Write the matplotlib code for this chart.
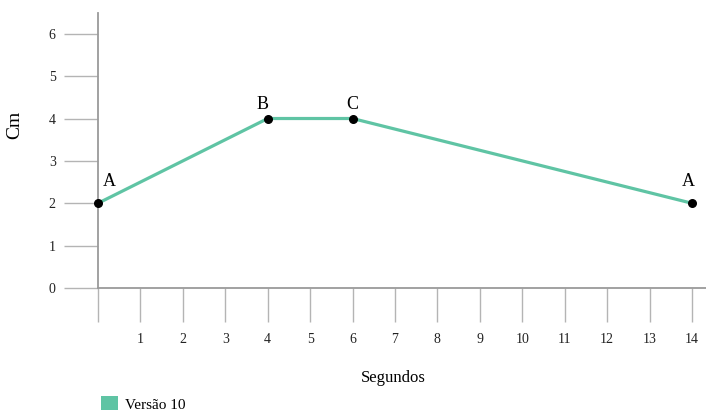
import matplotlib.pyplot as plt
from matplotlib.patches import Patch

# Data
segundos = [0, 4, 6, 14]
cm = [2, 4, 4, 2]
pontos = ["A", "B", "C", "A"]
x_ticks = list(range(0, 15))
y_ticks = list(range(0, 7))
serie = "Versão 10"

teal = "#5fc4a4"
grid_gray = "#b4b4b4"
axis_gray = "#9a9a9a"

plt.rcParams["font.family"] = ["Liberation Serif", "DejaVu Serif"]

fig = plt.figure(figsize=(7.06, 4.13), dpi=100)
ax = fig.add_axes([98 / 706, 125 / 413, 608 / 706, 275 / 413])

ax.plot(segundos, cm, color=teal, linewidth=2.3, zorder=3, clip_on=False)
ax.scatter(segundos, cm, color="black", s=30, zorder=4, clip_on=False)

# point labels (offsets in points)
offsets = [(8, 16), (-4, 10), (0, 10), (-3, 16)]
for x, y, nome, off in zip(segundos, cm, pontos, offsets):
    ax.annotate(nome, (x, y), xytext=off, textcoords="offset points",
                ha="center", va="center", fontsize=13)

ax.set_xlim(0, 14.33)
ax.set_ylim(0, 6.49)
ax.set_xticks(x_ticks)
ax.set_xticklabels([""] + [str(t) for t in x_ticks[1:]])
ax.set_yticks(y_ticks)

for s in ["top", "right"]:
    ax.spines[s].set_visible(False)
for s in ["left", "bottom"]:
    ax.spines[s].set_color(axis_gray)
    ax.spines[s].set_linewidth(1.3)

ax.tick_params(axis="x", length=24.5, width=1, color=grid_gray, pad=8,
               labelsize=10, labelcolor="#222222")
ax.tick_params(axis="y", length=24.5, width=1, color=grid_gray, pad=6,
               labelsize=10, labelcolor="#222222")

fig.text(15 / 706, 1 - 125 / 413, "Cm", rotation=90, ha="center", va="center",
         fontsize=14)
fig.text(393 / 706, 1 - 378 / 413, "Segundos", ha="center", va="center",
         fontsize=12)

fig.legend(handles=[Patch(facecolor=teal, edgecolor="none", label=serie)],
           loc="center left", bbox_to_anchor=(101 / 706, 1 - 404 / 413),
           frameon=False, fontsize=11, handlelength=1.1, handleheight=1.0,
           handletextpad=0.5, borderpad=0, borderaxespad=0)

fig.savefig("out.png", dpi=100)
